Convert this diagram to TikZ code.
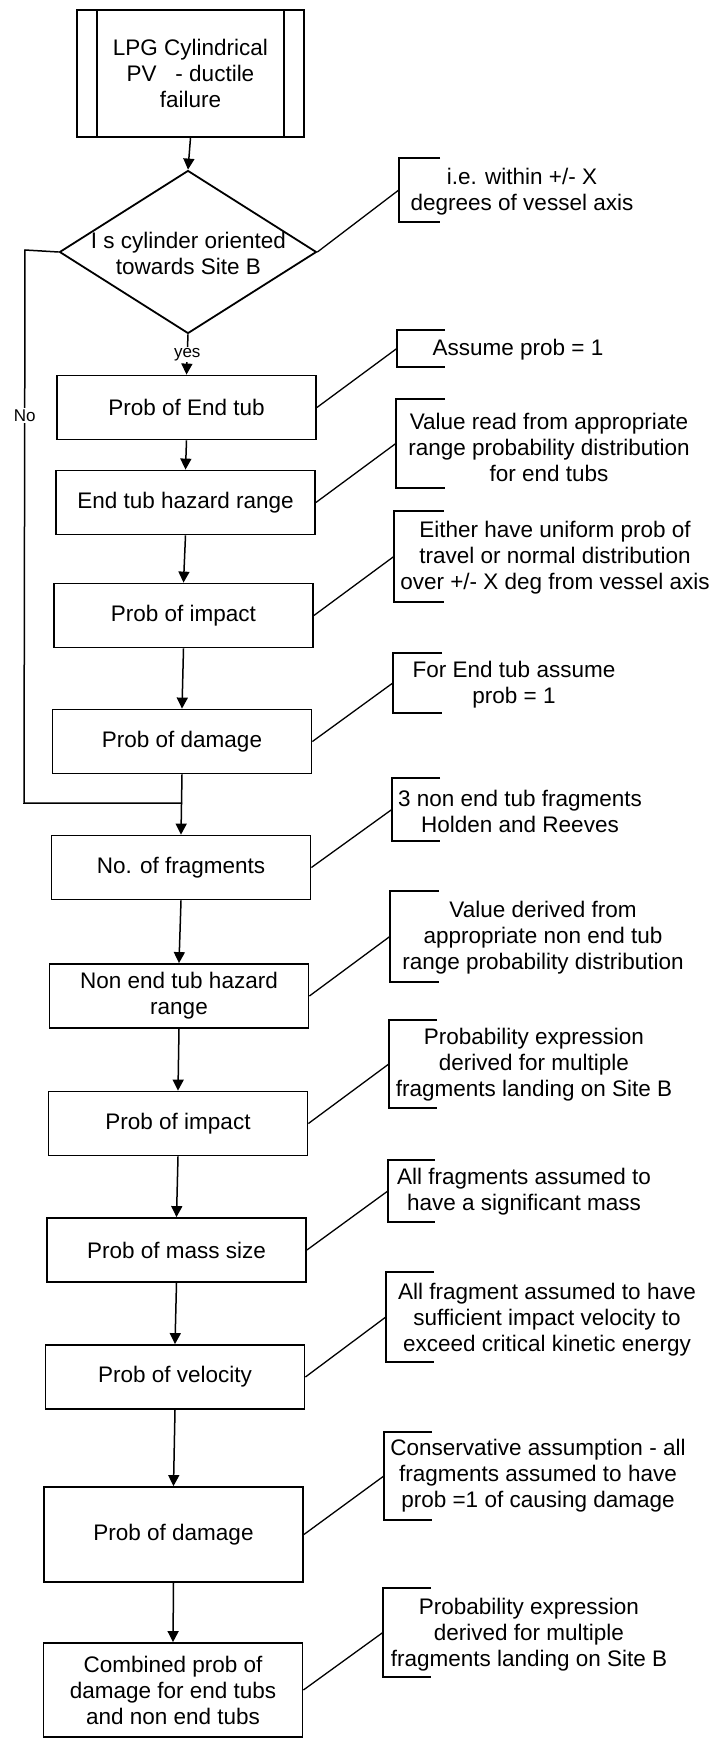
\documentclass[tikz,border=0pt]{standalone}
\usepackage{fontspec}
\setmainfont{Liberation Sans}
\usetikzlibrary{arrows.meta,shapes.geometric}

\tikzset{
  txt/.style={font=\fontsize{22.5}{26}\selectfont, align=center, inner sep=0pt},
  box/.style={txt, draw, line width=1.8pt, minimum width=259pt, minimum height=64pt},
  decision/.style={draw, diamond, line width=1.8pt, minimum width=257pt, minimum height=163pt, inner sep=0pt},
  flow/.style={line width=1.5pt, -{Triangle[length=11pt,width=11pt]}},
  link/.style={line width=1.3pt},
  bracket/.style={line width=1.8pt},
  brk/.style={inner sep=0pt},
  lbl/.style={fill=white, font=\fontsize{17}{20}\selectfont, inner sep=1.5pt}
}

\begin{document}
\begin{tikzpicture}[x=1pt, y=-1pt]
\useasboundingbox (0,0) rectangle (715,1739);

% start block with double side bars
\node[box, minimum width=227pt, minimum height=127pt] (start) at (190.5,73.5)
  {LPG Cylindrical\\PV~~~- ductile\\failure};
\draw[line width=1.8pt] ([xshift=21pt]start.north west) -- ([xshift=21pt]start.south west);
\draw[line width=1.8pt] ([xshift=-21pt]start.north east) -- ([xshift=-21pt]start.south east);

% decision
\node[decision] (dia) at (188,252) {};
\node[txt] (diatext) at (188.5,253.5) {I s cylinder oriented\\towards Site B};

% main chain of steps
\node[box] (s1) at (186.5,407.5) {Prob of End tub};
\node[box] (s2) at (185.5,502.5) {End tub hazard range};
\node[box] (s3) at (183.5,615.5) {Prob of impact};
\node[box] (s4) at (182,741.5) {Prob of damage};
\node[box] (s5) at (181,867.5) {No. of fragments};
\node[box] (s6) at (179,996) {Non end tub hazard\\range};
\node[box] (s7) at (178,1123.5) {Prob of impact};
\node[box] (s8) at (176.5,1250) {Prob of mass size};
\node[box] (s9) at (175,1377) {Prob of velocity};
\node[box, minimum height=95pt] (s10) at (173.5,1534.5) {Prob of damage};
\node[box, minimum height=94pt] (s11) at (173,1690) {Combined prob of\\damage for end tubs\\and non end tubs};

% flow arrows
\draw[flow] (start.south) -- (dia.north);
\draw[flow] (dia.south) -- node[lbl, pos=0.5] {yes} (s1.north);
\draw[flow] (s1.south) -- (s2.north);
\draw[flow] (s2.south) -- (s3.north);
\draw[flow] (s3.south) -- (s4.north);
\draw[flow] (s4.south) -- (s5.north);
\draw[flow] (s5.south) -- (s6.north);
\draw[flow] (s6.south) -- (s7.north);
\draw[flow] (s7.south) -- (s8.north);
\draw[flow] (s8.south) -- (s9.north);
\draw[flow] (s9.south) -- (s10.north);
\draw[flow] (s10.south) -- (s11.north);

% "No" branch rejoining above the fragment count
\coordinate (noturn) at (25,250);
\coordinate (nodown) at (24,803);
\coordinate (nojoin) at (182,803);
\draw[line width=1.5pt] (dia.west) -- (noturn) -- node[lbl, pos=0.3] {No} (nodown) -- (nojoin);

% note brackets
\foreach \n/\cx/\cy/\w/\h in {
  b1/419.5/190/41/64,
  b2/421/348.5/48/37,
  b3/420.5/443.5/49/89,
  b4/419/556.5/50/91,
  b5/417.5/683/49/60,
  b6/416/809.5/48/63,
  b7/414.5/936.5/49/91,
  b8/413/1064/48/88,
  b9/411.5/1191/47/62,
  b10/410/1317/48/90,
  b11/408/1476/48/88,
  b12/407/1632.5/48/89}{
  \node[brk, minimum width=\w pt, minimum height=\h pt] (\n) at (\cx,\cy) {};
  \draw[bracket] (\n.north east) -- (\n.north west) -- (\n.south west) -- (\n.south east);
}

% note texts
\node[txt] (t1) at (522,192) {i.e. within +/- X\\degrees of vessel axis};
\node[txt] (t2) at (518,350) {Assume prob = 1};
\node[txt] (t3) at (549,447) {Value read from appropriate\\range probability distribution\\for end tubs};
\node[txt] (t4) at (555,558) {Either have uniform prob of\\travel or normal distribution\\over +/- X deg from vessel axis};
\node[txt] (t5) at (514,685) {For End tub assume\\prob = 1};
\node[txt] (t6) at (520,811.5) {3 non end tub fragments\\Holden and Reeves};
\node[txt] (t7) at (543,938) {Value derived from\\appropriate non end tub\\range probability distribution};
\node[txt] (t8) at (534,1065) {Probability expression\\derived for multiple\\fragments landing on Site B};
\node[txt] (t9) at (524,1192) {All fragments assumed to\\have a significant mass};
\node[txt] (t10) at (547,1320) {All fragment assumed to have\\sufficient impact velocity to\\exceed critical kinetic energy};
\node[txt] (t11) at (538,1476) {Conservative assumption - all\\fragments assumed to have\\prob =1 of causing damage};
\node[txt] (t12) at (529,1635) {Probability expression\\derived for multiple\\fragments landing on Site B};

% leader lines from steps to notes
\draw[link] (dia.east) -- (b1.west);
\draw[link] (s1.east) -- (b2.west);
\draw[link] (s2.east) -- (b3.west);
\draw[link] (s3.east) -- (b4.west);
\draw[link] (s4.east) -- (b5.west);
\draw[link] (s5.east) -- (b6.west);
\draw[link] (s6.east) -- (b7.west);
\draw[link] (s7.east) -- (b8.west);
\draw[link] (s8.east) -- (b9.west);
\draw[link] (s9.east) -- (b10.west);
\draw[link] (s10.east) -- (b11.west);
\draw[link] (s11.east) -- (b12.west);
\end{tikzpicture}
\end{document}
